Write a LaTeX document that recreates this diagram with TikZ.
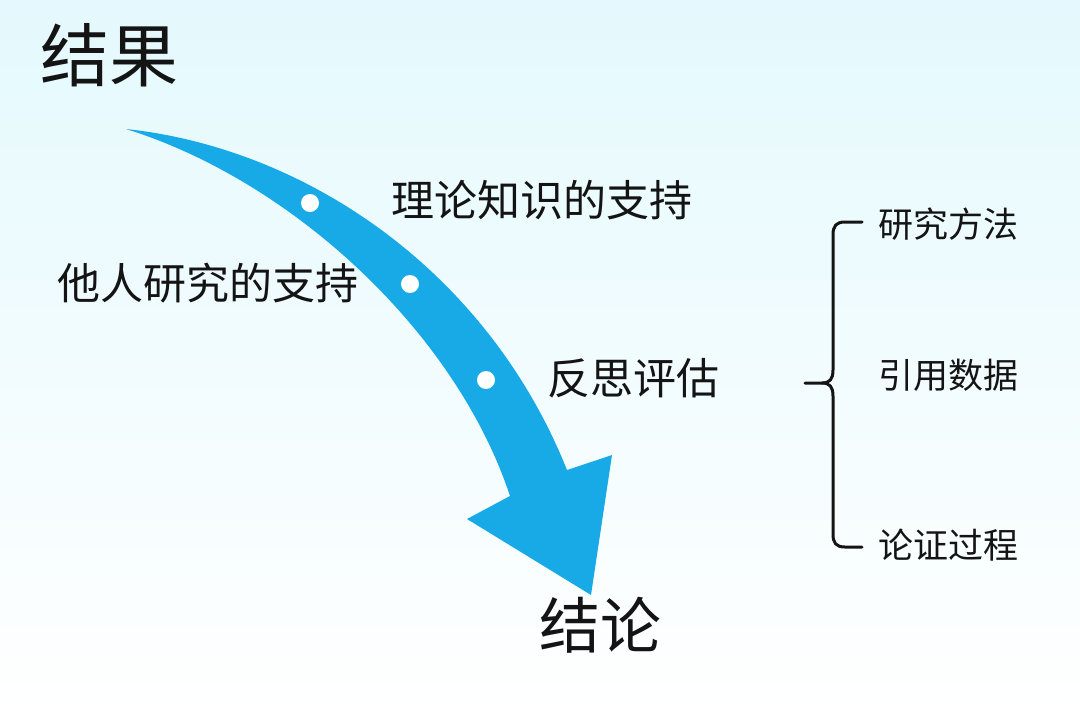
\documentclass[tikz,border=0pt]{standalone}
\usepackage{fontspec}
\newfontfamily\cjk{Noto Sans CJK SC}
\definecolor{arrowblue}{RGB}{24,170,230}
\definecolor{bgtop}{RGB}{228,249,253}
\definecolor{txt}{RGB}{20,20,20}
\tikzset{
  big/.style={font=\cjk\fontsize{69}{74}\selectfont, text=txt, inner sep=0pt},
  bigb/.style={font=\cjk\fontsize{61}{66}\selectfont, text=txt, inner sep=0pt},
  mid/.style={font=\cjk\fontsize{43}{48}\selectfont, text=txt, inner sep=0pt},
  small/.style={font=\cjk\fontsize{35}{40}\selectfont, text=txt, inner sep=0pt},
  dot/.style={circle, fill=white, minimum size=18pt, inner sep=0pt},
  bracestyle/.style={draw=txt, line width=3pt, line cap=round, line join=round}
}
\begin{document}
\begin{tikzpicture}[x=1pt,y=-1pt]
\useasboundingbox (0,0) rectangle (1080,721);
\shade[top color=bgtop, bottom color=white] (0,0) rectangle (1080,721);
% arrow
\fill[arrowblue] (126,129) .. controls (305,148) and (487,270) .. (567,470)
  -- (612,455) -- (591,595) -- (467,519) -- (510,496)
  .. controls (455,330) and (290,180) .. (126,129) -- cycle;
\node[dot] (d1) at (310,203) {};
\node[dot] (d2) at (410,284) {};
\node[dot] (d3) at (486,380) {};
% texts
\node[big] (res) at (110,55) {结果};
\node[bigb] (con) at (600,625) {结论};
\node[mid] (t1) at (542,200) {理论知识的支持};
\node[mid] (t2) at (208,283) {他人研究的支持};
\node[mid] (t3) at (633,378) {反思评估};
\node[small] (s1) at (948,224) {研究方法};
\node[small] (s2) at (948,375) {引用数据};
\node[small] (s3) at (948,545) {论证过程};
% brace
\coordinate (btop) at (862,222);
\coordinate (bbot) at (862,547);
\coordinate (btip) at (805,383);
\draw[bracestyle] (btop) -- (845,222) .. controls (836,222) and (833,226) .. (833,235)
  -- (833,370) .. controls (833,379) and (830,383) .. (822,383) -- (btip);
\draw[bracestyle] (822,383) .. controls (830,383) and (833,387) .. (833,396)
  -- (833,534) .. controls (833,543) and (836,547) .. (845,547) -- (bbot);
\end{tikzpicture}
\end{document}
